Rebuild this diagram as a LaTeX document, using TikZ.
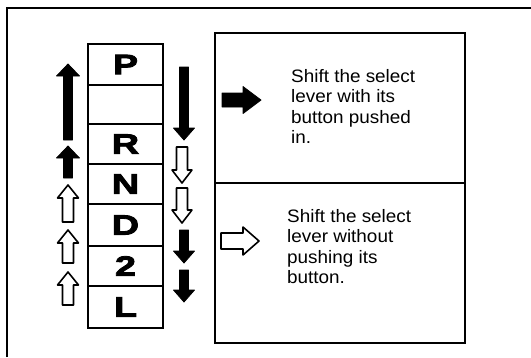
\documentclass[tikz,border=0pt]{standalone}
\usepackage{fontspec}
\setmainfont{Liberation Sans}
\newfontfamily\descfont[FakeStretch=1.05]{Liberation Sans}
\newfontfamily\gearfont[FakeStretch=1.35,BoldFeatures={FakeBold=3}]{Liberation Sans}
% vertical arrow: x, tip y, tail y, head length (signed), head half width, shaft half width, style
\newcommand{\VArrow}[7]{%
  \draw[#7] (#1-#6,#3) -- (#1-#6,#2+#4) -- (#1-#5,#2+#4) -- (#1,#2) -- (#1+#5,#2+#4) -- (#1+#6,#2+#4) -- (#1+#6,#3) -- cycle;}
% horizontal arrow: tip x, y, tail x, head length (signed), head half height, shaft half height, style
\newcommand{\HArrow}[7]{%
  \draw[#7] (#3,#2-#6) -- (#1+#4,#2-#6) -- (#1+#4,#2-#5) -- (#1,#2) -- (#1+#4,#2+#5) -- (#1+#4,#2+#6) -- (#3,#2+#6) -- cycle;}
\begin{document}
\begin{tikzpicture}[x=1pt,y=-1pt,
  frame/.style={line width=2pt},
  cellline/.style={line width=2pt},
  boxline/.style={line width=1.6pt},
  gear/.style={font=\gearfont\bfseries\fontsize{28}{28}\selectfont, inner sep=0pt},
  solidarr/.style={fill=black, draw=black, line width=0.8pt, line join=round},
  openarr/.style={fill=white, draw=black, line width=1.6pt, line join=round},
  desc/.style={font=\descfont\fontsize{18}{20.5}\selectfont, align=left, anchor=base west, inner sep=0pt}]
\useasboundingbox (0,0) rectangle (531,357);
% outer frame
\draw[frame] (7,357) -- (7,8) -- (531,8);
% gear column
\draw[cellline] (88,44) rectangle (163,328);
\foreach \yy in {85,124,164,204,246,286} \draw[cellline] (88,\yy) -- (163,\yy);
\node[gear] (gP) at (125.5,64.5) {P};
\node[gear] (gR) at (125.5,144) {R};
\node[gear] (gN) at (125.5,184) {N};
\node[gear] (gD) at (125.5,225) {D};
\node[gear] (g2) at (125.5,266) {2};
\node[gear] (gL) at (125.5,307) {L};
% left (up) arrows
\VArrow{68}{64}{140}{12}{11.5}{4.5}{solidarr}
\VArrow{68}{146}{178}{12}{11.5}{4.5}{solidarr}
\VArrow{68}{185}{222}{13}{10.5}{5.5}{openarr}
\VArrow{68}{230}{263}{13}{10.5}{5.5}{openarr}
\VArrow{68}{272}{305}{13}{10.5}{5.5}{openarr}
% right (down) arrows
\VArrow{184}{140}{67}{-12}{10.5}{4.5}{solidarr}
\VArrow{182}{183}{147}{-13}{10}{5.5}{openarr}
\VArrow{182}{223}{188}{-13}{10}{5.5}{openarr}
\VArrow{184}{263}{230}{-12}{10.5}{4.5}{solidarr}
\VArrow{184}{302}{270}{-12}{10.5}{4.5}{solidarr}
% legend boxes
\draw[boxline] (215,33) rectangle (465,343);
\draw[boxline] (215,183) -- (465,183);
\HArrow{261}{100}{222}{-18}{13.5}{7}{solidarr}
\HArrow{259}{241}{221}{-16}{14}{8}{openarr}
\node[desc] (t1) at (291,143.5) {Shift the select\\lever with its\\button pushed\\in.};
\node[desc] (t2) at (287,283.5) {Shift the select\\lever without\\pushing its\\button.};
\end{tikzpicture}
\end{document}
